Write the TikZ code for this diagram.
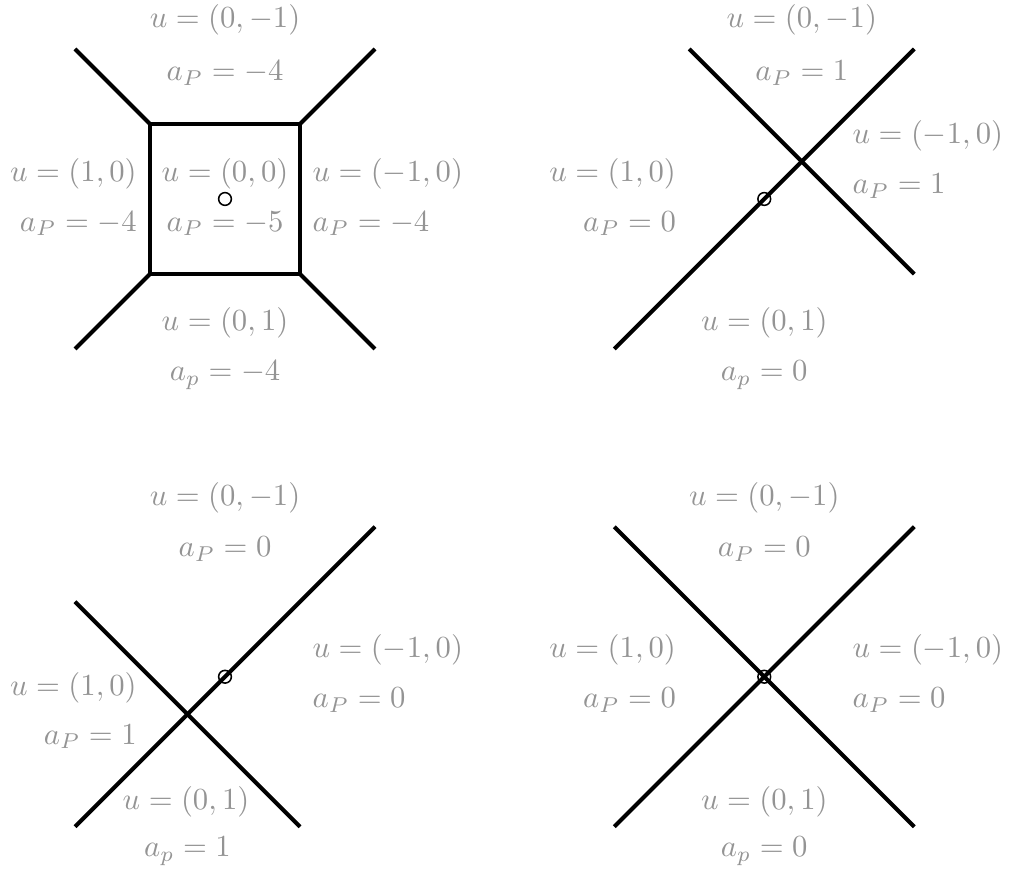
\documentclass[tikz,border=0pt]{standalone}
\begin{document}
\begin{tikzpicture}[x=0.86cm,y=0.86cm,
    edge/.style={line width=1.3pt},
    lab/.style={text=black!42, inner sep=0pt},
    dot/.style={line width=0.5pt}]
    \def\panelX{7.19}
    \def\panelY{-6.37}
    \def\rad{0.085}

    \useasboundingbox (-3.0,2.653) rectangle (10.48,-8.987);

    % Panel 1: square cell at the origin
    \begin{scope}
        \coordinate (A1) at (-1,1);
        \coordinate (B1) at (1,1);
        \coordinate (C1) at (1,-1);
        \coordinate (D1) at (-1,-1);
        \draw[edge] (A1) -- (B1) -- (C1) -- (D1) -- cycle;
        \draw[edge] (A1) -- (-2,2);
        \draw[edge] (B1) -- (2,2);
        \draw[edge] (C1) -- (2,-2);
        \draw[edge] (D1) -- (-2,-2);
        \draw[dot] (0,0) circle (\rad);
        \node[lab] (t1u) at (0,2.39) {$u=(0,-1)$};
        \node[lab] (t1a) at (0,1.68) {$a_P=-4$};
        \node[lab,anchor=east] (l1u) at (-1.17,0.33) {$u=(1,0)$};
        \node[lab,anchor=east] (l1a) at (-1.17,-0.33) {$a_P=-4$};
        \node[lab] (c1u) at (0,0.33) {$u=(0,0)$};
        \node[lab] (c1a) at (0,-0.33) {$a_P=-5$};
        \node[lab,anchor=west] (r1u) at (1.16,0.33) {$u=(-1,0)$};
        \node[lab,anchor=west] (r1a) at (1.16,-0.33) {$a_P=-4$};
        \node[lab] (b1u) at (0,-1.65) {$u=(0,1)$};
        \node[lab] (b1a) at (0,-2.35) {$a_p=-4$};
    \end{scope}

    % Panel 2: crossing shifted up right
    \begin{scope}[shift={(\panelX,0)}]
        \coordinate (P2a) at (-2,-2);
        \coordinate (P2b) at (2,2);
        \coordinate (Q2a) at (-1,2);
        \coordinate (Q2b) at (2,-1);
        \draw[edge] (P2a) -- (P2b);
        \draw[edge] (Q2a) -- (Q2b);
        \draw[dot] (0,0) circle (\rad);
        \node[lab] (t2u) at (0.5,2.39) {$u=(0,-1)$};
        \node[lab] (t2a) at (0.5,1.68) {$a_P=1$};
        \node[lab,anchor=east] (l2u) at (-1.17,0.33) {$u=(1,0)$};
        \node[lab,anchor=east] (l2a) at (-1.17,-0.33) {$a_P=0$};
        \node[lab,anchor=west] (r2u) at (1.17,0.84) {$u=(-1,0)$};
        \node[lab,anchor=west] (r2a) at (1.17,0.17) {$a_P=1$};
        \node[lab] (b2u) at (0,-1.65) {$u=(0,1)$};
        \node[lab] (b2a) at (0,-2.35) {$a_p=0$};
    \end{scope}

    % Panel 3: crossing shifted down left
    \begin{scope}[shift={(0,\panelY)}]
        \coordinate (P3a) at (-2,-2);
        \coordinate (P3b) at (2,2);
        \coordinate (Q3a) at (-2,1);
        \coordinate (Q3b) at (1,-2);
        \draw[edge] (P3a) -- (P3b);
        \draw[edge] (Q3a) -- (Q3b);
        \draw[dot] (0,0) circle (\rad);
        \node[lab] (t3u) at (0,2.39) {$u=(0,-1)$};
        \node[lab] (t3a) at (0,1.70) {$a_P=0$};
        \node[lab,anchor=east] (l3u) at (-1.17,-0.15) {$u=(1,0)$};
        \node[lab,anchor=east] (l3a) at (-1.17,-0.80) {$a_P=1$};
        \node[lab,anchor=west] (r3u) at (1.16,0.36) {$u=(-1,0)$};
        \node[lab,anchor=west] (r3a) at (1.16,-0.31) {$a_P=0$};
        \node[lab] (b3u) at (-0.52,-1.67) {$u=(0,1)$};
        \node[lab] (b3a) at (-0.5,-2.33) {$a_p=1$};
    \end{scope}

    % Panel 4: crossing through the point
    \begin{scope}[shift={(\panelX,\panelY)}]
        \coordinate (P4a) at (-2,-2);
        \coordinate (P4b) at (2,2);
        \coordinate (Q4a) at (-2,2);
        \coordinate (Q4b) at (2,-2);
        \draw[edge] (P4a) -- (P4b);
        \draw[edge] (Q4a) -- (Q4b);
        \draw[dot] (0,0) circle (\rad);
        \node[lab] (t4u) at (0,2.39) {$u=(0,-1)$};
        \node[lab] (t4a) at (0,1.70) {$a_P=0$};
        \node[lab,anchor=east] (l4u) at (-1.17,0.36) {$u=(1,0)$};
        \node[lab,anchor=east] (l4a) at (-1.17,-0.31) {$a_P=0$};
        \node[lab,anchor=west] (r4u) at (1.17,0.36) {$u=(-1,0)$};
        \node[lab,anchor=west] (r4a) at (1.17,-0.31) {$a_P=0$};
        \node[lab] (b4u) at (0,-1.67) {$u=(0,1)$};
        \node[lab] (b4a) at (0,-2.33) {$a_p=0$};
    \end{scope}

\end{tikzpicture}
\end{document}
